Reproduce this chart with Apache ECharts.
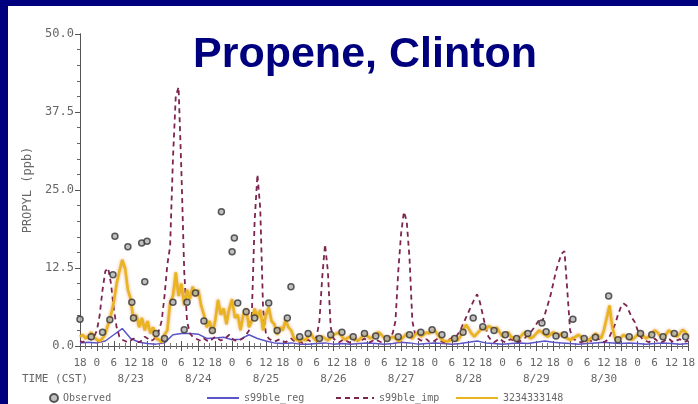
<!DOCTYPE html>
<html>
<head>
<meta charset="utf-8">
<script src="https://cdn.jsdelivr.net/npm/echarts@6/dist/echarts.min.js"></script>
<style>
html,body{margin:0;padding:0;background:#00007f;width:698px;height:404px;overflow:hidden;}
#chart{position:absolute;left:8px;top:6px;width:690px;height:398px;background:#fff;}
</style>
</head>
<body>
<div id="chart"></div>
<script>
// hours counted from 8/22 18:00 CST
var dates = ['8/23','8/24','8/25','8/26','8/27','8/28','8/29','8/30'];

// s99ble_imp, hourly
var impValues = [
0.8,0.6,0.9,1.2,1.0,1.5,2.5,
5,9,12,12.5,10,6,3,
1.5,1,0.8,0.6,0.9,1.2,0.8,
0.6,0.9,1.5,1.2,0.8,1.0,1.5,
2.5,4,8,13,16,30,40,
41.5,28,12,4,2,1.5,1.2,
1.0,0.8,1.2,0.9,0.7,1.1,1.5,
1.2,0.9,1.0,1.4,1.8,1.2,0.9,
0.8,1.0,1.3,1.8,2.5,5,20,
27.5,22,6,2,1.2,0.9,0.7,
0.9,1.1,0.8,0.6,0.9,1.2,0.8,
0.6,0.7,0.5,0.8,1.0,0.7,0.9,
1.5,4,11,16.3,12,3,1.2,
0.8,0.6,0.9,1.1,0.7,0.5,0.8,
1.0,0.7,0.9,1.2,0.8,0.6,0.9,
1.1,0.8,0.6,0.9,1.2,1.5,2,
4,12,18,21.5,20,14,4,
1.8,1.2,0.9,0.8,1.1,0.7,0.6,
0.9,1.2,0.8,0.6,0.7,1.0,1.3,
1.2,1.8,2.5,3.5,4.5,5.5,6.5,
7.5,8.3,7,5,3,1.5,0.9,
0.6,0.9,1.2,0.8,0.6,0.9,1.1,
0.8,0.6,0.7,1.0,1.3,1.8,2.2,
2.8,3.5,4.2,3.8,5,6.5,8,
10,12,13.5,14.8,15.2,9,2.5,
1.2,0.9,0.7,0.6,0.8,1.1,0.9,
0.7,0.9,1.2,0.8,0.6,0.9,1.5,
2.5,3.5,5,6.2,6.8,6.5,5.5,
4.5,3.8,2.5,1.5,1.0,0.8,0.6,
0.9,1.2,0.8,0.6,0.7,1.0,1.2,
0.8,0.6,0.9,1.1,0.8,0.7,0.9
];

// 3234333148, hourly
var goldValues = [
1.5,1.8,1.2,1.6,2.2,1.4,1.0,
0.8,1.2,2.0,3.5,5,7,10,
12,13.8,12.5,9,7.5,4,5,
3,4.5,2.5,4,2,3,1.2,
1.0,0.6,1.8,2.5,7,8,11.8,
8,10,6.5,9,7.5,9.5,8,
9,6.5,5,3,4,2,4,
7.4,5,6,3.5,6,7.5,4.5,
5,2.5,5,6,3,4,6,
4.5,5.8,2.5,5,6.2,4,3.5,
1.8,3,2.5,4.2,3,2.5,1.2,
1,0.8,1.2,0.9,1.5,2,1.2,
0.8,1.0,1.5,1.2,0.9,1.3,1.8,
2,2.2,1.5,1.0,1.3,1.5,1.2,
1,0.9,1.4,2,1.6,1.2,1.5,
2.0,2.2,1.8,1.3,1.0,1.2,1.5,
1.2,0.8,1.0,1.5,2,1.6,1.2,
1.8,2.2,1.5,1.8,2.2,2.0,2.5,
2.5,1.8,1.2,0.9,0.7,0.8,1.0,
1.2,0.9,1.5,2.5,3.4,2.8,2,
1.5,2,2.5,3,2.6,3.2,3,
2.5,3,2.2,1.5,1.8,2.2,1.5,
1.2,1.0,1.3,1.8,2.2,1.6,1.2,
1.5,2.0,2.5,2.2,1.8,1.5,1.8,
2.2,2.0,1.6,2.0,1.5,1.2,1.0,
1.2,1.5,1.8,1.4,1.0,0.8,1.1,
1.5,2,1.6,1.2,2.5,4.5,6.5,
3,1.2,0.9,1.3,1.8,1.5,1.2,
1.0,1.4,1.8,2.2,1.6,1.2,1.5,
2.0,2.5,2.2,1.6,1.3,1.8,2.5,
2.2,1.8,1.5,2.0,2.6,2.2,1.5
];

// s99ble_reg, every 3 hours
var regValues = [
0.5,0.6,0.5,0.8,1.8,2.8,1.2,0.6,0.4,0.3,0.5,1.8,2.0,2.0,1.9,1.2,1.3,1.4,1.0,1.1,
1.8,1.2,0.8,0.5,0.4,0.5,0.3,0.3,0.4,0.5,0.3,0.4,0.3,0.4,0.5,0.4,0.3,0.4,0.6,0.5,
0.3,0.4,0.5,0.4,0.3,0.4,0.6,0.8,0.5,0.4,0.3,0.4,0.5,0.4,0.6,0.8,0.6,0.5,0.4,0.3,
0.4,0.5,0.6,0.5,0.4,0.5,0.4,0.3,0.4,0.5,0.4,0.3,0.4
];

// Observed
var obsHours = [0,4,8,10.6,11.7,12.4,17,18.4,19,21.9,23,23.8,27,30,33,37,38,41,44,47,
50.2,54,54.8,56,59,62,67,70,73.6,74.9,78,81,85,89,93,97,101,105,109,113,
117,121,125,128.5,133,136,139.6,143,147,151,155,159,164,165.5,169,172,175,179,183,187.7,
191,195,199,203,207,211,215];
var obsValues = [4.3,1.5,2.2,4.2,11.4,17.6,15.9,7.0,4.5,16.5,10.3,16.8,2,1.2,7,2.6,7,8.5,4,2.5,
21.5,15.1,17.3,6.9,5.5,4.5,6.9,2.5,4.5,9.5,1.5,2,1.2,1.8,2.2,1.5,2,1.6,1.2,1.5,
1.8,2.2,2.6,1.8,1.2,2.2,4.5,3.1,2.5,1.8,1.2,2,3.7,2.3,1.6,1.8,4.3,1.2,1.4,8.0,
1.0,1.5,2,1.8,1.5,2,1.5];

function pairs(step, vals) {
    var out = [];
    for (var i = 0; i < vals.length; i++) out.push([i * step, vals[i]]);
    return out;
}
var obsData = [];
for (var k = 0; k < obsHours.length; k++) obsData.push([obsHours[k], obsValues[k]]);

var txtFont = 'DejaVu Sans Mono';
var txtColor = '#666';
var legText = {fontFamily: txtFont, fontSize: 10, color: txtColor};

var chart = echarts.init(document.getElementById('chart'), null, {width: 690, height: 398});
var option = {
    animation: false,
    title: {
        text: 'Propene, Clinton',
        left: 173,
        top: 24,
        padding: [4, 20, 4, 12],
        backgroundColor: '#fff',
        textStyle: {fontFamily: 'Liberation Sans', fontWeight: 'bold', fontSize: 43, color: '#00007f'},
        z: 10
    },
    grid: {left: 72, right: 7, top: 28, bottom: 58},
    legend: [
        {left: 36, top: 382, itemWidth: 8, itemHeight: 8, itemGap: 0, data: ['Observed'], textStyle: legText},
        {left: 193, top: 382, itemWidth: 32, itemHeight: 8, data: ['s99ble_reg'], textStyle: legText,
         itemStyle: {opacity: 0}},
        {left: 322, top: 382, itemWidth: 38, itemHeight: 8, data: ['s99ble_imp'], textStyle: legText,
         itemStyle: {opacity: 0}},
        {left: 442, top: 382, itemWidth: 42, itemHeight: 8, data: ['3234333148'], textStyle: legText,
         itemStyle: {opacity: 0}}
    ],
    graphic: [
        {type: 'text', left: 14, top: 368,
         style: {text: 'TIME (CST)', font: '11px "DejaVu Sans Mono"', fill: txtColor}}
    ],
    xAxis: [
        {
            type: 'value', position: 'bottom', min: 0, max: 216, interval: 6,
            axisLine: {lineStyle: {color: '#555', width: 1}},
            axisTick: {inside: true, length: 5, lineStyle: {color: '#555'}},
            minorTick: {show: true, splitNumber: 3, length: 3, lineStyle: {color: '#777'}},
            splitLine: {show: false},
            axisLabel: {
                margin: 9, fontFamily: txtFont, fontSize: 11, color: txtColor, lineHeight: 16,
                formatter: function (v) {
                    var h = (v + 18) % 24;
                    var s = '' + h;
                    if (h === 12) {
                        var d = Math.floor((v + 18) / 24);
                        if (d >= 1 && d <= dates.length) s += '\n' + dates[d - 1];
                    }
                    return s;
                }
            }
        },
        {
            type: 'value', position: 'top', min: 0, max: 216, interval: 6,
            axisLine: {lineStyle: {color: '#555', width: 1}},
            axisTick: {inside: true, length: 5, lineStyle: {color: '#555'}},
            minorTick: {show: true, splitNumber: 3, length: 3, lineStyle: {color: '#777'}},
            splitLine: {show: false},
            axisLabel: {show: false}
        }
    ],
    yAxis: [
        {
            type: 'value', min: 0, max: 50, interval: 12.5,
            name: 'PROPYL (ppb)', nameLocation: 'middle', nameGap: 46,
            nameTextStyle: {fontFamily: txtFont, fontSize: 12, color: txtColor},
            axisLine: {show: true, lineStyle: {color: '#555', width: 1}},
            axisTick: {show: true, length: 5, lineStyle: {color: '#555'}},
            minorTick: {show: true, splitNumber: 5, length: 3, lineStyle: {color: '#666'}},
            splitLine: {show: false},
            axisLabel: {margin: 6, fontFamily: txtFont, fontSize: 12, color: txtColor,
                formatter: function (v) { return v.toFixed(1); }}
        },
        {
            type: 'value', position: 'right', min: 0, max: 50, interval: 12.5,
            axisLine: {show: true, lineStyle: {color: '#555', width: 1}},
            axisTick: {show: true, inside: true, length: 5, lineStyle: {color: '#555'}},
            minorTick: {show: true, splitNumber: 5, length: 3, lineStyle: {color: '#666'}},
            splitLine: {show: false},
            axisLabel: {show: false}
        }
    ],
    series: [
        {
            name: 's99ble_reg', type: 'line', symbol: 'none', smooth: false,
            data: pairs(3, regValues),
            lineStyle: {color: '#5b55c8', width: 1.5},
            itemStyle: {color: '#5b55c8'}
        },
        {
            name: 's99ble_imp', type: 'line', symbol: 'none', smooth: false,
            data: pairs(1, impValues),
            lineStyle: {color: '#7d2450', width: 1.8, type: [5, 4]},
            itemStyle: {color: '#7d2450'}
        },
        {
            name: '3234333148', type: 'line', symbol: 'none', smooth: false,
            data: pairs(1, goldValues),
            lineStyle: {color: '#e8b420', width: 2.5, shadowColor: 'rgba(225,120,20,0.7)', shadowBlur: 3},
            itemStyle: {color: '#e8b420'}
        },
        {
            name: 'Observed', type: 'scatter', symbol: 'circle', symbolSize: 6,
            data: obsData,
            itemStyle: {color: '#b0b0b0', borderColor: '#333', borderWidth: 1.5},
            z: 5
        }
    ]
};
chart.setOption(option);
</script>
</body>
</html>
